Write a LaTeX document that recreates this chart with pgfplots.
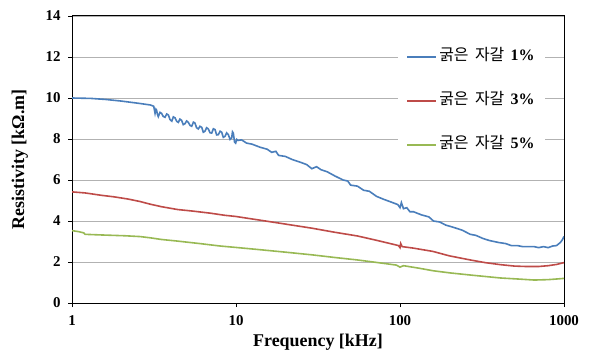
\documentclass[border=0pt]{standalone}
\usepackage{fontspec}
\setmainfont{Liberation Serif}
\newfontfamily\kr{Noto Sans CJK KR}
\usepackage{pgfplots}
\pgfplotsset{compat=1.18}
\begin{document}
\begin{tikzpicture}
\definecolor{c1}{RGB}{74,126,187}
\definecolor{c2}{RGB}{190,75,72}
\definecolor{c3}{RGB}{152,185,84}
\begin{axis}[name=ax, scale only axis, width=492bp, height=287bp,
 xmode=log, xmin=1, xmax=1000, ymin=0, ymax=14,
 xtick={1,10,100,1000}, xticklabels={1,10,100,1000}, xminorticks=false,
 ytick={0,2,...,14},
 ymajorgrids, grid style={black!30, line width=0.6bp},
 tick pos=left, tick align=outside, major tick length=4bp,
 every tick/.style={black, line width=0.8bp},
 axis line style={line width=1bp},
 /pgf/number format/assume math mode=true,
 ticklabel style={font=\bfseries\fontsize{15}{15}\selectfont},
 xticklabel style={yshift=-5bp},
 yticklabel style={xshift=-4bp},
 xlabel={Frequency [kHz]}, ylabel={Resistivity [kΩ.m]},
 label style={font=\bfseries\fontsize{18}{18}\selectfont},
 xlabel style={at={(axis description cs:0.5,-0.137)}, anchor=center},
 ylabel style={at={(axis description cs:-0.106,0.5)}, anchor=center},
 legend style={at={(0.961,0.923)}, anchor=north east, draw=none, fill=white,
   inner xsep=8bp, inner ysep=10bp, row sep=26bp,
   font=\fontsize{16}{16}\selectfont,
   nodes={text height=10bp, text depth=4bp, inner sep=2bp}},
 legend cell align=left,
 legend image code/.code={\draw[#1, line width=2bp] (0bp,0bp) -- (29bp,0bp);},
]
\addplot[c1, line width=1.6bp] coordinates {
(1,10.0) (1.3,9.98) (1.6,9.93) (2.0,9.85) (2.5,9.75) (3.0,9.66) (3.15,9.6)
(3.21,9.25) (3.25,9.45) (3.28,9.41) (3.32,9.2) (3.36,9.09) (3.44,9.3) (3.52,9.25)
(3.6,9.1) (3.69,9.06) (3.78,9.22) (3.87,9.17) (3.96,8.95) (4.06,8.87) (4.15,9.08)
(4.25,9.03) (4.35,8.86) (4.45,8.81) (4.55,8.97) (4.66,8.91) (4.77,8.7) (4.89,8.75)
(5.0,8.88) (5.12,8.81) (5.25,8.66) (5.37,8.62) (5.5,8.82) (5.62,8.78) (5.75,8.55)
(5.89,8.49) (6.03,8.62) (6.18,8.57) (6.32,8.33) (6.47,8.38) (6.62,8.55) (6.78,8.49)
(6.95,8.3) (7.11,8.29) (7.28,8.5) (7.45,8.46) (7.62,8.2) (7.8,8.21) (8.0,8.38)
(8.18,8.33) (8.37,8.08) (8.57,8.13) (8.77,8.3) (8.98,8.21) (9.2,7.98) (9.41,8.05)
(9.52,8.35) (9.63,8.29) (9.8,7.85) (9.95,7.8) (10.1,7.98) (10.3,7.93) (10.8,7.96)
(11.6,7.8) (12.5,7.75) (14,7.6) (15.5,7.5) (16.5,7.35) (17.5,7.4) (18.2,7.2)
(20,7.15) (22,7.0) (25,6.85) (27,6.75) (29,6.55) (31,6.65) (33,6.5) (36,6.4)
(40,6.2) (45,6.0) (48,5.95) (50,5.75) (55,5.7) (60,5.5) (65,5.45) (72,5.2)
(80,5.05) (90,4.9) (97,4.8) (100,4.65) (102,4.9) (105,4.6) (110,4.65)
(115,4.45) (121,4.45) (135,4.3) (150,4.2) (160,4.0) (175,3.95) (190,3.8)
(210,3.7) (240,3.55) (268,3.35) (290,3.3) (320,3.15) (350,3.05) (400,2.95)
(440,2.9) (478,2.8) (520,2.8) (560,2.75) (600,2.75) (658,2.75) (700,2.7)
(750,2.75) (800,2.7) (853,2.78) (900,2.8) (950,2.95) (980,3.1) (1000,3.25)
};
\addlegendentry{{\kr 굵은\hspace{0.4em}자갈}\hspace{0.4em}\bfseries 1\%}
\addplot[c2, line width=1.6bp] coordinates {
(1,5.42) (1.2,5.37) (1.52,5.25) (1.8,5.18) (2.2,5.07) (2.6,4.95) (3.0,4.82)
(3.5,4.7) (4.4,4.56) (5.5,4.48) (7.0,4.38) (8.5,4.28) (10,4.22) (13,4.08)
(16,3.97) (20,3.85) (29,3.65) (40,3.45) (55,3.27) (70,3.08) (85,2.92)
(98,2.8) (100,2.7) (101,2.9) (103,2.75) (120,2.68) (158,2.52) (200,2.3)
(268,2.1) (330,1.97) (410,1.87) (500,1.8) (590,1.78) (700,1.78) (800,1.82)
(900,1.88) (1000,1.97)
};
\addlegendentry{{\kr 굵은\hspace{0.4em}자갈}\hspace{0.4em}\bfseries 3\%}
\addplot[c3, line width=1.6bp] coordinates {
(1,3.53) (1.1,3.48) (1.18,3.42) (1.2,3.35) (1.5,3.32) (2.1,3.28) (2.6,3.24)
(3.0,3.18) (3.5,3.1) (4.4,3.02) (6,2.9) (8,2.78) (10,2.71) (14,2.6)
(20,2.48) (29,2.35) (40,2.22) (55,2.1) (75,1.96) (95,1.85) (100,1.75)
(105,1.82) (130,1.7) (160,1.57) (206,1.46) (280,1.35) (410,1.22) (550,1.16)
(658,1.12) (800,1.14) (900,1.17) (1000,1.2)
};
\addlegendentry{{\kr 굵은\hspace{0.4em}자갈}\hspace{0.4em}\bfseries 5\%}
\end{axis}
\pgfresetboundingbox
\path[use as bounding box] ([shift={(-72bp,-53bp)}]ax.south west) rectangle ([shift={(26bp,16bp)}]ax.north east);
\end{tikzpicture}
\end{document}
